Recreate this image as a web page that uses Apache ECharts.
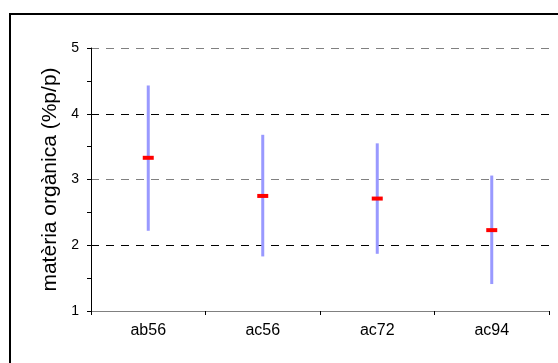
<!DOCTYPE html>
<html>
<head>
<meta charset="utf-8">
<script src="https://cdn.jsdelivr.net/npm/echarts@6/dist/echarts.min.js"></script>
<style>
    html, body { margin: 0; padding: 0; background: #fff; }
    #chart { width: 558px; height: 363px; }
</style>
</head>
<body>
<div id="chart"></div>
<script>
// 数据
var categories = ['ab56', 'ac56', 'ac72', 'ac94'];
var means = [3.33, 2.75, 2.71, 2.23];
var lows = [2.22, 1.83, 1.87, 1.41];
var highs = [4.43, 3.68, 3.55, 3.06];
var yTicks = [1, 2, 3, 4, 5];

window.onload = function () {
    initChart();
}

// 误差线 + 平均值标记
function renderBar(params, api) {
    var i = api.value(0);
    var top = api.coord([i, api.value(2)]);
    var bottom = api.coord([i, api.value(1)]);
    var mid = api.coord([i, api.value(3)]);
    return {
        type: 'group',
        children: [
            {
                type: 'line',
                shape: { x1: top[0], y1: top[1], x2: bottom[0], y2: bottom[1] },
                style: { stroke: '#9999ff', lineWidth: 3 }
            },
            {
                type: 'rect',
                shape: { x: mid[0] - 5.5, y: mid[1] - 2, width: 11, height: 4 },
                style: { fill: '#ff0000' }
            }
        ]
    };
}

function initChart() {
    var chart = echarts.init(document.getElementById('chart'));
    var data = categories.map(function (c, i) {
        return [i, lows[i], highs[i], means[i]];
    });
    chart.setOption({
        animation: false,
        backgroundColor: '#fff',
        textStyle: { fontFamily: 'Liberation Sans, Arial, sans-serif' },
        graphic: [{
            type: 'rect',
            silent: true,
            shape: { x: 10, y: 14, width: 600, height: 400 },
            style: { fill: 'none', stroke: '#000', lineWidth: 2 }
        }],
        grid: { left: 91, top: 48, right: 9, bottom: 52 },
        xAxis: {
            type: 'category',
            data: categories,
            boundaryGap: true,
            axisLine: { lineStyle: { color: '#808080', width: 1 } },
            axisTick: { show: true, length: 4, lineStyle: { color: '#000' } },
            axisLabel: { color: '#000', fontSize: 16, margin: 12 },
            splitLine: { show: false }
        },
        yAxis: {
            type: 'value',
            min: yTicks[0],
            max: yTicks[yTicks.length - 1],
            interval: 1,
            name: 'matèria orgànica (%p/p)',
            nameLocation: 'middle',
            nameGap: 30,
            nameRotate: 90,
            nameTextStyle: { color: '#000', fontSize: 21 },
            axisLine: { show: true, lineStyle: { color: '#000', width: 1 } },
            axisTick: { show: true, length: 4, lineStyle: { color: '#000' } },
            minorTick: { show: true, splitNumber: 2, length: 4, lineStyle: { color: '#000' } },
            axisLabel: { color: '#000', fontSize: 14, margin: 12 },
            splitLine: {
                show: true,
                lineStyle: { color: ['#808080', '#000000'], type: [8, 7], width: 1 }
            }
        },
        series: [{
            type: 'custom',
            renderItem: renderBar,
            encode: { x: 0, y: [1, 2] },
            data: data,
            z: 10
        }]
    });
}
</script>
</body>
</html>
